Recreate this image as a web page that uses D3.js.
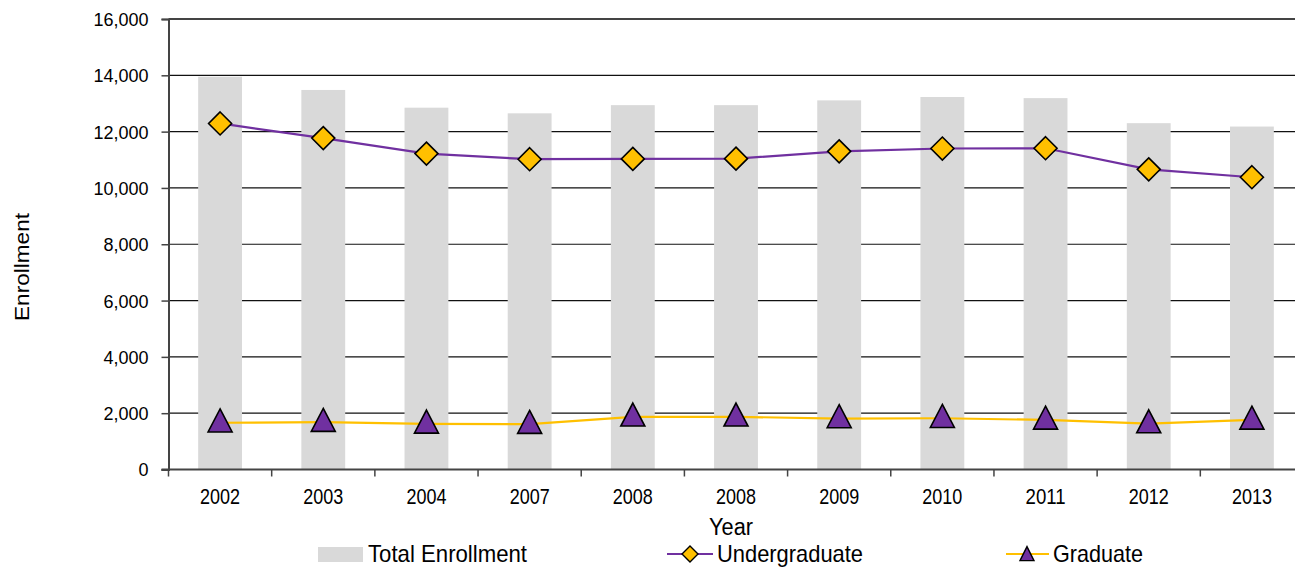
<!DOCTYPE html>
<html><head><meta charset="utf-8">
<script src="https://cdn.jsdelivr.net/npm/d3@7"></script>
<style>body{margin:0;background:#fff}svg{display:block}text{font-family:"Liberation Sans",Arial,sans-serif;fill:#000}</style>
</head><body><svg id="c" width="1295" height="569"></svg>
<script>
const years = ["2002","2003","2004","2007","2008","2008","2009","2010","2011","2012","2013"];
const totalEnrollment = [13950,13480,12850,12650,12940,12940,13110,13230,13190,12300,12180];
const undergraduate = [12290,11770,11220,11020,11030,11040,11300,11400,11410,10660,10380];
const graduate = [1660,1680,1620,1610,1870,1870,1810,1820,1760,1630,1760];
const yTicks = [0,2000,4000,6000,8000,10000,12000,14000,16000];

const svg = d3.select("#c");
const L = 168.5, R = 1303.5, T = 19, B = 469.5;
const idx = d3.range(years.length);
const x = d3.scaleBand().domain(idx).range([L, R]).paddingInner(0.575).paddingOuter(0.2875);
const y = d3.scaleLinear().domain([0,16000]).range([B, T]);
const cx = i => x(i) + x.bandwidth()/2;

// gridlines
svg.append("g").selectAll("line").data(yTicks.filter(v=>v>0)).join("line")
  .attr("x1", L).attr("x2", R).attr("y1", d=>y(d)).attr("y2", d=>y(d))
  .attr("stroke", d=>d===16000?"#444":"#111").attr("stroke-width", d=>d===16000?2:1.2);

// bars
svg.append("g").selectAll("rect").data(totalEnrollment).join("rect")
  .attr("x", (d,i)=>x(i)).attr("width", x.bandwidth())
  .attr("y", d=>y(d)).attr("height", d=>B-y(d)).attr("fill", "#d9d9d9");

// y axis
const yAxis = d3.axisLeft(y).tickValues(yTicks).tickSize(7).tickPadding(13).tickFormat(d3.format(","));
const gy = svg.append("g").attr("transform", `translate(${L},0)`).call(yAxis);
gy.select(".domain").attr("stroke","#444").attr("stroke-width",2);
gy.selectAll(".tick line").attr("stroke","#444").attr("stroke-width",1.5);
gy.selectAll(".tick text").style("font-size","18px").style("font-family","Liberation Sans, Arial, sans-serif").attr("fill","#000").attr("dy","0.36em");

// x axis
const xAxis = d3.axisBottom(x).tickSize(0).tickPadding(0).tickFormat(i=>years[i]);
const gx = svg.append("g").attr("transform", `translate(0,${B})`).call(xAxis);
gx.select(".domain").remove();
gx.selectAll(".tick text").attr("y",34.5).attr("dy",null)
  .style("font-size","21.5px").style("font-family","Liberation Sans, Arial, sans-serif").attr("fill","#000")
  .attr("textLength",40).attr("lengthAdjust","spacingAndGlyphs");
svg.append("line").attr("x1",L-7).attr("x2",R).attr("y1",B).attr("y2",B).attr("stroke","#444").attr("stroke-width",2);
const step = x.step();
svg.append("g").selectAll("line").data(d3.range(years.length+1)).join("line")
  .attr("x1", i=>L + i*step).attr("x2", i=>L + i*step)
  .attr("y1", B).attr("y2", B+7).attr("stroke","#444").attr("stroke-width",1.5);

// lines
const line = d3.line().x((d,i)=>cx(i)).y(d=>y(d));
svg.append("path").datum(undergraduate).attr("d", line).attr("fill","none").attr("stroke","#7030a0").attr("stroke-width",2.2);
svg.append("path").datum(graduate).attr("d", line).attr("fill","none").attr("stroke","#ffc000").attr("stroke-width",2.2);

const diamond = s => `M0,${-s}L${s},0L0,${s}L${-s},0Z`;
const tri = (w,h) => `M0,${-h*0.6}L${w/2},${h*0.4}L${-w/2},${h*0.4}Z`;

svg.append("g").selectAll("path").data(undergraduate).join("path")
  .attr("transform",(d,i)=>`translate(${cx(i)},${y(d)})`)
  .attr("d", diamond(11.5)).attr("fill","#ffc000").attr("stroke","#000").attr("stroke-width",1.6);
svg.append("g").selectAll("path").data(graduate).join("path")
  .attr("transform",(d,i)=>`translate(${cx(i)},${y(d)})`)
  .attr("d", tri(24,23)).attr("fill","#7030a0").attr("stroke","#000").attr("stroke-width",1.6);

// axis titles
svg.append("text").attr("transform","translate(29,267) rotate(-90)").attr("text-anchor","middle")
  .style("font-size","21px").attr("textLength",108).attr("lengthAdjust","spacingAndGlyphs").text("Enrollment");
svg.append("text").attr("x",731).attr("y",535).attr("text-anchor","middle")
  .style("font-size","23px").attr("textLength",44).attr("lengthAdjust","spacingAndGlyphs").text("Year");

// legend
const lg = svg.append("g");
lg.append("rect").attr("x",318).attr("y",547).attr("width",45).attr("height",15).attr("fill","#d9d9d9");
lg.append("text").attr("x",368).attr("y",562).style("font-size","24px").attr("textLength",159).attr("lengthAdjust","spacingAndGlyphs").text("Total Enrollment");
lg.append("line").attr("x1",667).attr("x2",713).attr("y1",554).attr("y2",554).attr("stroke","#7030a0").attr("stroke-width",2.2);
lg.append("path").attr("transform","translate(690,554)").attr("d",diamond(8)).attr("fill","#ffc000").attr("stroke","#000").attr("stroke-width",1.4);
lg.append("text").attr("x",717).attr("y",562).style("font-size","24px").attr("textLength",146).attr("lengthAdjust","spacingAndGlyphs").text("Undergraduate");
lg.append("line").attr("x1",1006).attr("x2",1049).attr("y1",554).attr("y2",554).attr("stroke","#ffc000").attr("stroke-width",2.2);
lg.append("path").attr("transform","translate(1027,555)").attr("d",tri(14,14)).attr("fill","#7030a0").attr("stroke","#000").attr("stroke-width",1.4);
lg.append("text").attr("x",1053).attr("y",562).style("font-size","24px").attr("textLength",90).attr("lengthAdjust","spacingAndGlyphs").text("Graduate");
</script></body></html>
